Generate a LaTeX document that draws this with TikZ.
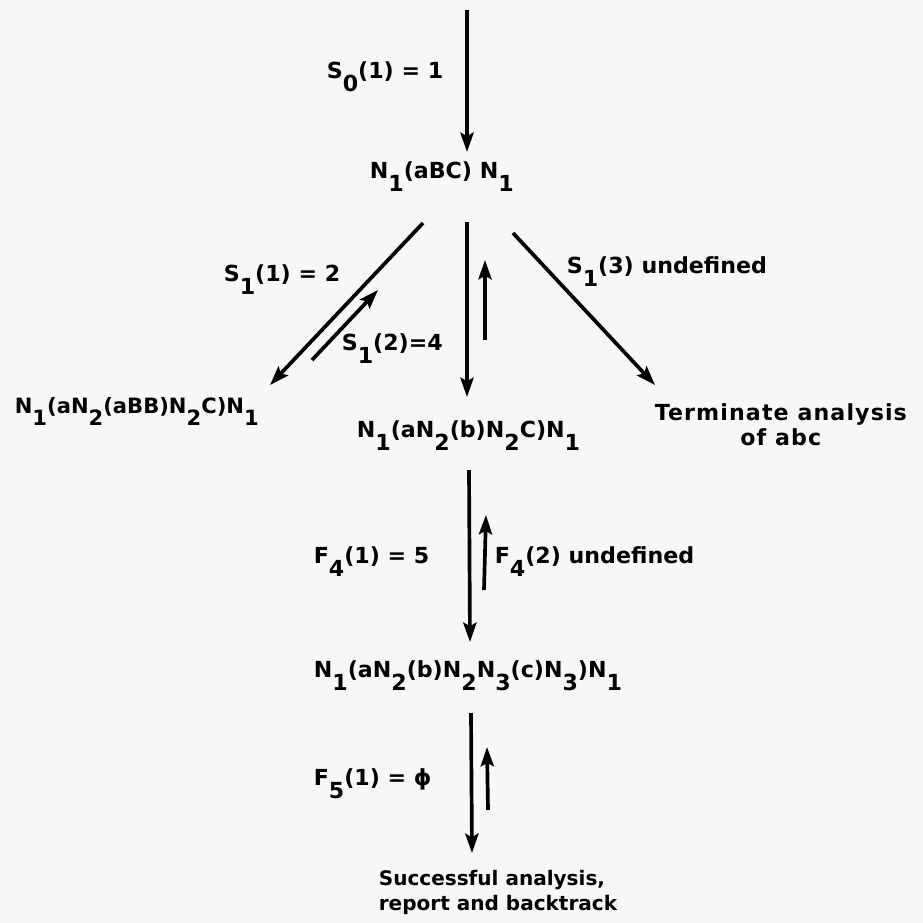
\documentclass[tikz,border=0pt]{standalone}
\usepackage{fontspec}
\setmainfont{DejaVu Sans}
\usetikzlibrary{arrows.meta}
\newcommand\dn[1]{\raisebox{-1.1ex}{#1}}

\begin{document}
\begin{tikzpicture}[x=0.02cm, y=-0.02cm, line width=2.1pt,
  txt/.style={font=\bfseries\fontsize{12.6}{14.2}\selectfont, inner sep=0pt, anchor=base west},
  arr/.style={-{Stealth[length=11pt, width=7.5pt, inset=2pt]}}]
  % page
  \fill[black!3] (0,0) rectangle (923,923);
  \useasboundingbox (0,0) rectangle (923,923);
  % states and labels
  \node[txt] (s0)  at (325,78)  {S\dn{0}(1) = 1};
  \node[txt] (n0)  at (368,178) {N\dn{1}(aBC) N\dn{1}};
  \node[txt] (s11) at (222,281) {S\dn{1}(1) = 2};
  \node[txt] (s12) at (340,350) {S\dn{1}(2)=4};
  \node[txt] (s13) at (565,273) {S\dn{1}(3) undefined};
  \node[txt, font=\bfseries\fontsize{12}{14.2}\selectfont]
    (nL)  at (13,413)  {N\dn{1}(aN\dn{2}(aBB)N\dn{2}C)N\dn{1}};
  \node[txt] (nC)  at (355,437) {N\dn{1}(aN\dn{2}(b)N\dn{2}C)N\dn{1}};
  \node[txt, align=center, font=\bfseries\fontsize{12.6}{14.2}\selectfont\addfontfeature{LetterSpace=5}]
    (nR) at (653,445) {Terminate analysis\\of abc};
  \node[txt] (f41) at (312,563) {F\dn{4}(1) = 5};
  \node[txt] (f42) at (493,563) {F\dn{4}(2) undefined};
  \node[txt] (n2)  at (312,677) {N\dn{1}(aN\dn{2}(b)N\dn{2}N\dn{3}(c)N\dn{3})N\dn{1}};
  \node[txt] (f51) at (312,785) {F\dn{5}(1) = ϕ};
  \node[txt, align=left, font=\bfseries\fontsize{11.4}{14.2}\selectfont]
    (nS) at (377,910) {Successful analysis,\\report and backtrack};
  % arrow ends
  \coordinate (in0) at (467,10);   \coordinate (to0) at (467,152);
  \coordinate (in1) at (467,222);  \coordinate (to1) at (467,397);
  \coordinate (in2) at (469,470);  \coordinate (to2) at (470,642);
  \coordinate (in3) at (471,713);  \coordinate (to3) at (472,853);
  \coordinate (up1) at (485,340);  \coordinate (ret1) at (485,260);
  \coordinate (up2) at (484,590);  \coordinate (ret2) at (486,515);
  \coordinate (up3) at (488,810);  \coordinate (ret3) at (487,747);
  \coordinate (inL) at (423,223);  \coordinate (toL) at (270,385);
  \coordinate (upL) at (312,360);  \coordinate (retL) at (378,290);
  \coordinate (inR) at (513,233);  \coordinate (toR) at (655,385);
  % forward steps
  \draw[arr] (in0) -- (to0);
  \draw[arr] (in1) -- (to1);
  \draw[arr] (in2) -- (to2);
  \draw[arr] (in3) -- (to3);
  \draw[arr] (inL) -- (toL);
  \draw[arr] (inR) -- (toR);
  % backtracking
  \draw[arr] (up1) -- (ret1);
  \draw[arr] (up2) -- (ret2);
  \draw[arr] (up3) -- (ret3);
  \draw[arr] (upL) -- (retL);
\end{tikzpicture}
\end{document}
